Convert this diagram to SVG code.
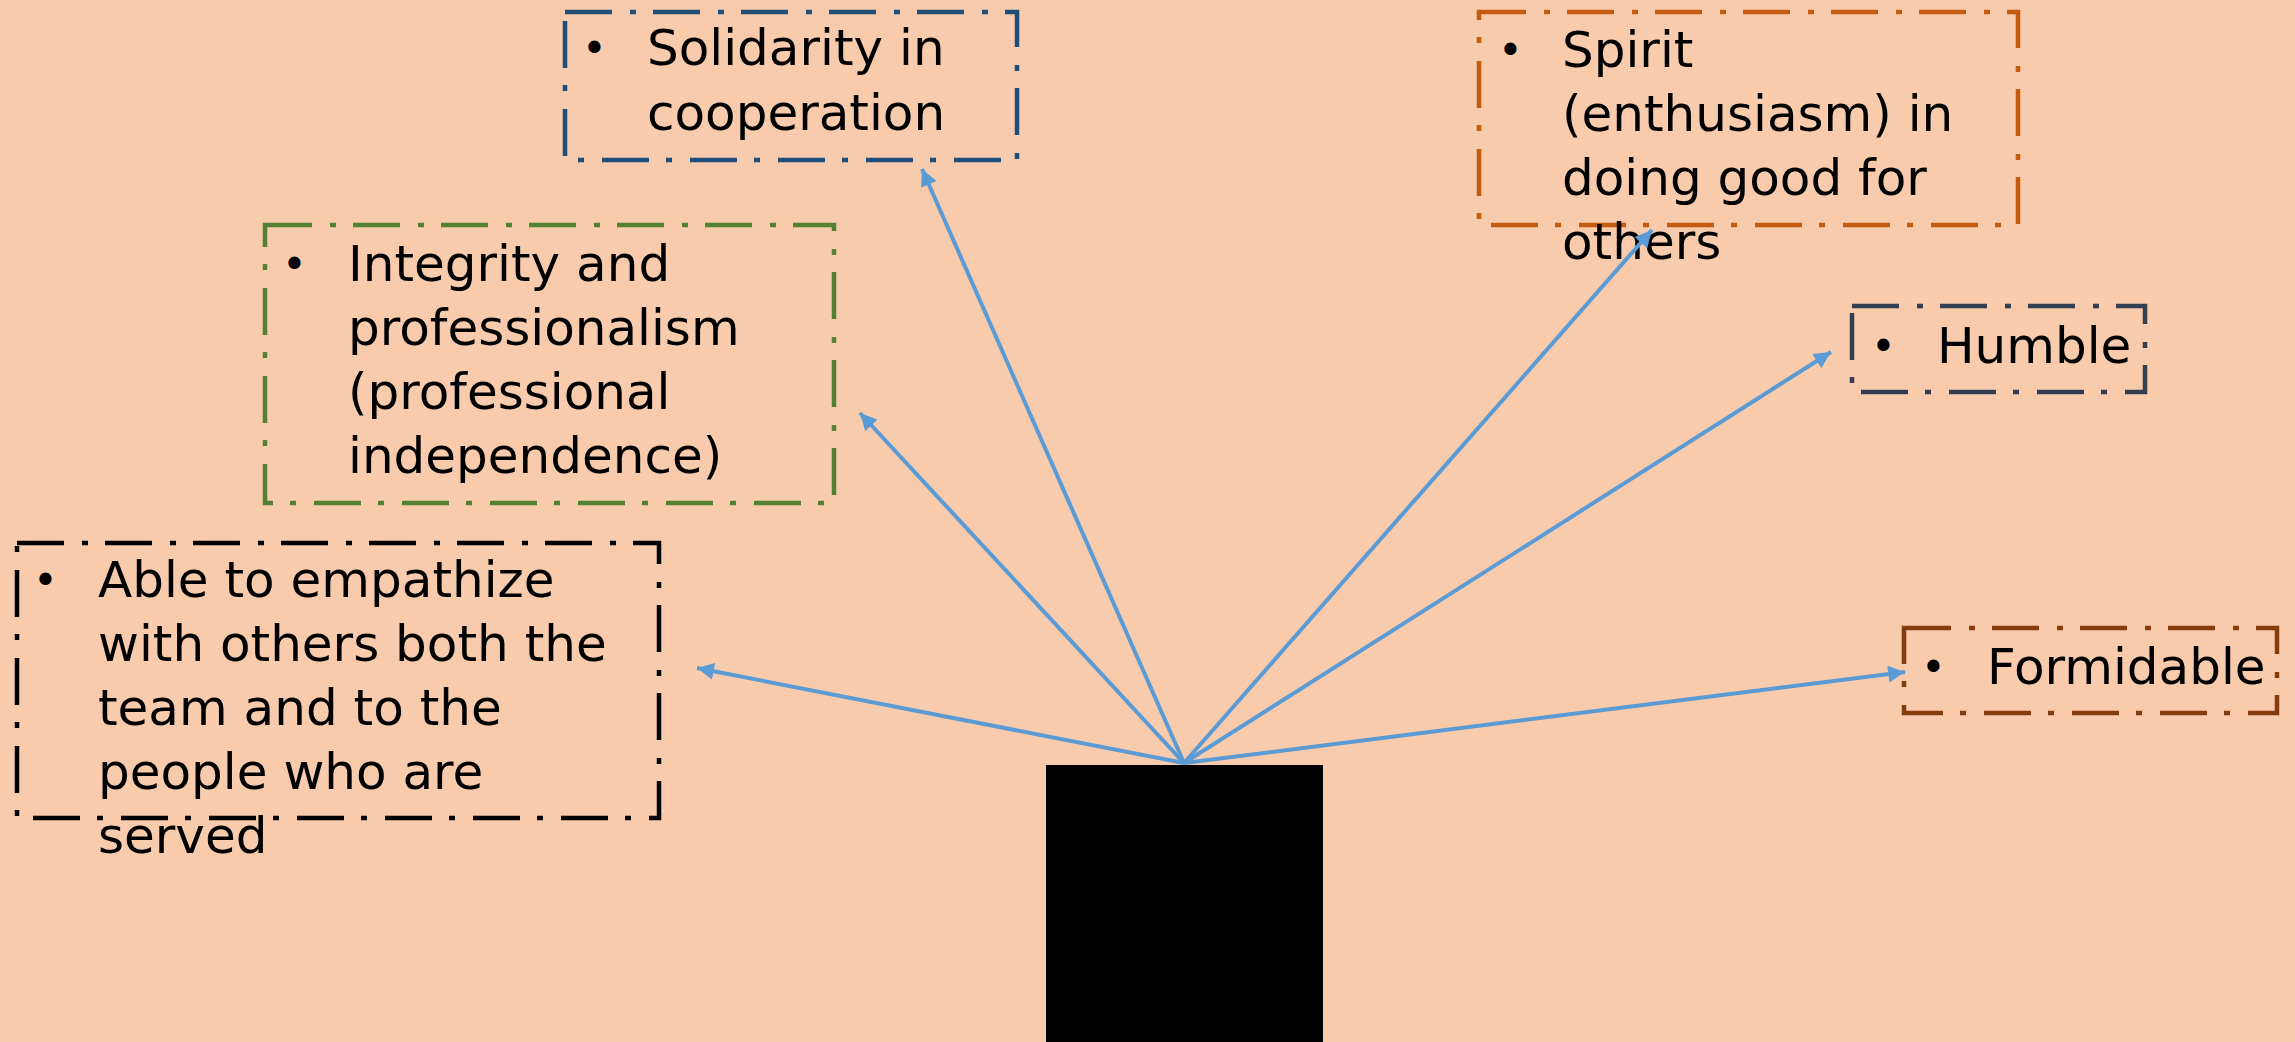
<svg xmlns="http://www.w3.org/2000/svg" width="2295" height="1042" viewBox="0 0 2295 1042">
<style>
.box{fill:none;stroke-width:4.5;stroke-dasharray:47 18 6 17}
.t{font-family:"DejaVu Sans","Liberation Sans",sans-serif;font-size:50px;fill:#000}
.b{font-family:"DejaVu Sans","Liberation Sans",sans-serif;font-size:42px;fill:#000}
.c{stroke:#5B9BD5;stroke-width:4;fill:none;marker-end:url(#ah)}
</style>
<defs>
<marker id="ah" viewBox="0 0 10 10" refX="10" refY="5" markerWidth="4.8" markerHeight="4.2" orient="auto" markerUnits="strokeWidth">
<path d="M0,0 L10,5 L0,10 z" fill="#5B9BD5"/>
</marker>
</defs>
<rect width="2295" height="1042" fill="#F8CBAD"/>
<g id="center"><rect x="1046" y="765" width="277" height="277" fill="#000"/></g>
<g id="solidarity">
<rect class="box" x="565" y="12" width="452" height="148" stroke="#1F4E79"/>
<text class="b" x="582" y="63">•</text>
<text class="t"><tspan x="647" y="65">Solidarity in</tspan><tspan x="647" y="130">cooperation</tspan></text>
</g>
<g id="integrity">
<rect class="box" x="265" y="225" width="569" height="278" stroke="#548235"/>
<text class="b" x="282" y="279">•</text>
<text class="t"><tspan x="348" y="281">Integrity and</tspan><tspan x="348" y="345">professionalism</tspan><tspan x="348" y="409">(professional</tspan><tspan x="348" y="473">independence)</tspan></text>
</g>
<g id="empathize">
<rect class="box" x="17" y="543" width="642" height="275" stroke="#000"/>
<text class="b" x="33" y="595">•</text>
<text class="t"><tspan x="98" y="597">Able to empathize</tspan><tspan x="98" y="661">with others both the</tspan><tspan x="98" y="725">team and to the</tspan><tspan x="98" y="789">people who are</tspan><tspan x="98" y="853">served</tspan></text>
</g>
<g id="spirit">
<rect class="box" x="1479" y="12" width="539" height="213" stroke="#C55A11"/>
<text class="b" x="1498" y="65">•</text>
<text class="t"><tspan x="1562" y="67">Spirit</tspan><tspan x="1562" y="131">(enthusiasm) in</tspan><tspan x="1562" y="195">doing good for</tspan><tspan x="1562" y="259">others</tspan></text>
</g>
<g id="humble">
<rect class="box" x="1852" y="306" width="293" height="86" stroke="#333F50"/>
<text class="b" x="1871" y="361">•</text>
<text class="t" x="1937" y="363">Humble</text>
</g>
<g id="formidable">
<rect class="box" x="1904" y="628" width="373" height="85" stroke="#843C0C"/>
<text class="b" x="1921" y="682">•</text>
<text class="t" x="1987" y="684">Formidable</text>
</g>
<g id="connectors">
<line class="c" x1="1184" y1="763" x2="922" y2="169"/>
<line class="c" x1="1184" y1="763" x2="860" y2="413"/>
<line class="c" x1="1184" y1="763" x2="697" y2="668"/>
<line class="c" x1="1184" y1="763" x2="1652" y2="230"/>
<line class="c" x1="1184" y1="763" x2="1831" y2="352"/>
<line class="c" x1="1184" y1="763" x2="1905" y2="672"/>
</g>
</svg>
